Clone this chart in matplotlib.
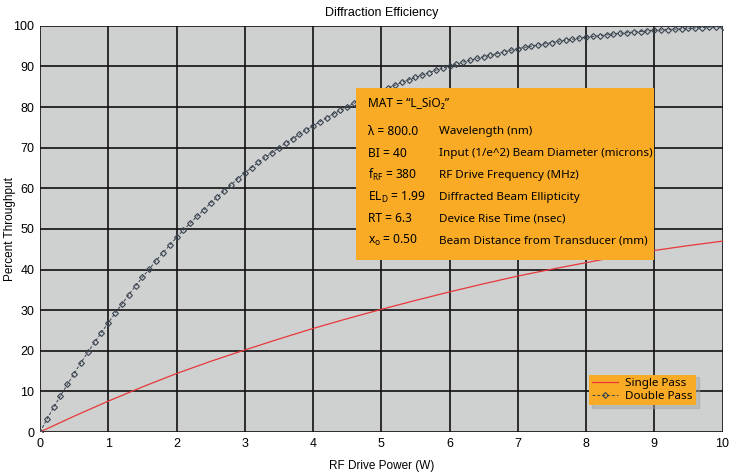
import numpy as np
import matplotlib
matplotlib.use('Agg')
import matplotlib.pyplot as plt
from matplotlib.patches import Rectangle

plt.rcParams['font.family'] = ['Liberation Sans', 'DejaVu Sans']
plt.rcParams['mathtext.fontset'] = 'custom'
plt.rcParams['mathtext.rm'] = 'Noto Sans'

# single pass, read every 0.5 W
single_x = [0.0, 0.5, 1.0, 1.5, 2.0, 2.5, 3.0, 3.5, 4.0, 4.5, 5.0,
            5.5, 6.0, 6.5, 7.0, 7.5, 8.0, 8.5, 9.0, 9.5, 10.0]
single_y = [0.0, 3.9, 7.6, 11.1, 14.4, 17.4, 20.2, 22.9, 25.5, 27.9, 30.2,
            32.4, 34.5, 36.5, 38.4, 40.1, 41.7, 43.3, 44.7, 45.9, 47.0]

# double pass, one marker every 0.1 W
double_x = np.linspace(0, 10, 101)
double_y = [0.0, 3.1, 6.1, 8.9, 11.7, 14.4, 17.1, 19.6, 22.1, 24.5,
            26.9, 29.2, 31.5, 33.8, 36.0, 38.1, 40.1, 42.2, 44.1, 46.0,
            47.9, 49.7, 51.4, 53.1, 54.7, 56.4, 57.9, 59.4, 60.9, 62.4,
            63.8, 65.1, 66.4, 67.6, 68.8, 70.0, 71.1, 72.2, 73.3, 74.4,
            75.4, 76.4, 77.4, 78.3, 79.2, 80.1, 80.9, 81.7, 82.5, 83.3,
            84.0, 84.7, 85.4, 86.1, 86.7, 87.3, 87.9, 88.5, 89.1, 89.6,
            90.1, 90.6, 91.1, 91.5, 92.0, 92.4, 92.8, 93.2, 93.6, 94.0,
            94.4, 94.7, 95.0, 95.3, 95.6, 95.9, 96.2, 96.5, 96.7, 97.0,
            97.2, 97.4, 97.6, 97.8, 98.0, 98.2, 98.3, 98.5, 98.6, 98.8,
            98.9, 99.0, 99.1, 99.2, 99.3, 99.4, 99.5, 99.6, 99.7, 99.7,
            99.8]

params = [
    ('\u03bb = 800.0', 'Wavelength (nm)'),
    ('BI = 40', 'Input (1/e^2) Beam Diameter (microns)'),
    (r'$\mathregular{f_{RF}}$ = 380', 'RF Drive Frequency (MHz)'),
    (r'$\mathregular{EL_{D}}$ = 1.99', 'Diffracted Beam Ellipticity'),
    ('RT = 6.3', 'Device Rise Time (nsec)'),
    (r'$\mathregular{x_{o}}$ = 0.50', 'Beam Distance from Transducer (mm)'),
]

orange = '#f9ab26'
boxfont = ['Noto Sans', 'DejaVu Sans']

fig = plt.figure(figsize=(7.3, 4.75), dpi=100)
ax = fig.add_axes([0.0548, 0.0905, 0.935, 0.855])
ax.set_facecolor('#cfd0d0')

ax.plot(single_x, single_y, color='#e8383a', lw=0.9, label='Single Pass', zorder=3)
ax.plot(double_x, double_y, color='#3a4450', lw=0.7, ls=(0, (3, 2)),
        marker='D', ms=3.0, mfc='none', mec='#3a4450', mew=0.8,
        label='Double Pass', zorder=3)

ax.set_xlim(0, 10)
ax.set_ylim(0, 100)
ax.set_xticks(range(0, 11))
ax.set_yticks(range(0, 101, 10))
ax.grid(True, color='#111111', lw=1.2)
ax.set_axisbelow(True)
ax.tick_params(length=0, labelsize=9, pad=4)
for s in ax.spines.values():
    s.set_visible(False)

ax.set_title('Diffraction Efficiency', fontsize=9, pad=7)
ax.set_xlabel('RF Drive Power (W)', fontsize=8.5, va='center')
ax.set_ylabel('Percent Throughput', fontsize=8.5, va='center')
ax.xaxis.set_label_coords(0.501, -0.084)
ax.yaxis.set_label_coords(-0.044, 0.5)

# parameter box
ax.add_patch(Rectangle((0.463, 0.424), 0.437, 0.423, transform=ax.transAxes,
                       facecolor=orange, edgecolor='none', zorder=5))
ax.text(0.481, 0.810, 'MAT = \u201cL_SiO\u2082\u201d', transform=ax.transAxes,
        fontsize=8.6, family=boxfont, va='center', zorder=6)
row_y = 0.739
for left, right in params:
    ax.text(0.481, row_y, left, transform=ax.transAxes, fontsize=8.6,
            family=boxfont, va='center', zorder=6)
    ax.text(0.585, row_y, right, transform=ax.transAxes, fontsize=8.4,
            family=boxfont, va='center', zorder=6)
    row_y -= 0.0535

leg = ax.legend(loc='lower left', bbox_to_anchor=(0.804, 0.066), frameon=True,
                fancybox=False, shadow={'color': '#a0a0a0', 'alpha': 0.45},
                handlelength=2.2, handletextpad=0.6, borderpad=0.3,
                borderaxespad=0, labelspacing=0.1,
                prop={'family': boxfont, 'size': 8.4})
leg.get_frame().set_facecolor(orange)
leg.get_frame().set_edgecolor('none')
leg.get_frame().set_alpha(1)
leg.set_zorder(7)

fig.savefig('out.png', dpi=100)
